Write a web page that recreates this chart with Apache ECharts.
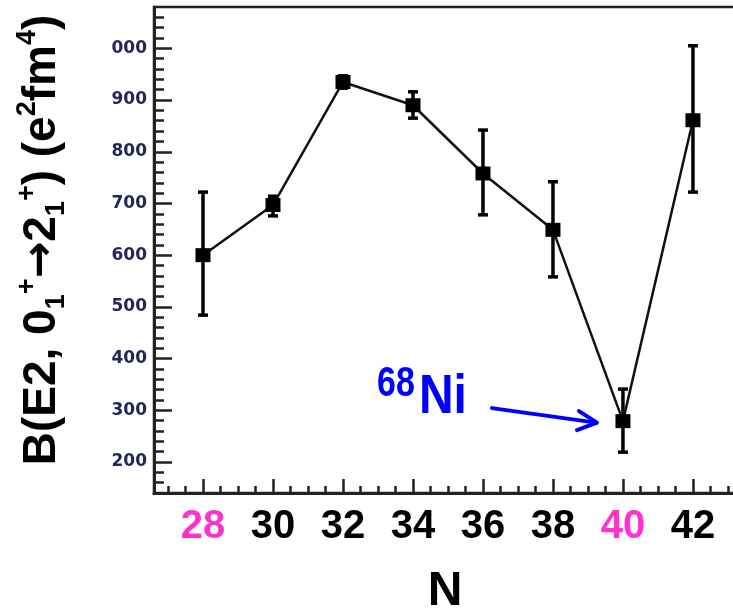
<!DOCTYPE html>
<html>
<head>
<meta charset="utf-8">
<script src="https://cdn.jsdelivr.net/npm/echarts@6/dist/echarts.min.js"></script>
<style>
html,body{margin:0;padding:0;background:#fff;}
#chart{width:733px;height:615px;}
</style>
</head>
<body>
<div id="chart"></div>
<script>
// ---- data ----
const neutronNumbers = [28, 30, 32, 34, 36, 38, 40, 42];
const be2Values      = [600, 697, 935, 890, 758, 649, 279, 861];
const errLow         = [484, 676, 923, 865, 678, 558, 219, 722];
const errHigh        = [722, 714, 947, 916, 842, 742, 341, 1005];

const xTickValues = [28, 30, 32, 34, 36, 38, 40, 42];
const xTickLabels = ['28', '30', '32', '34', '36', '38', '40', '42'];
const xHighlighted = ['28', '40'];

const yTickValues = [200, 300, 400, 500, 600, 700, 800, 900, 1000];
const yTickLabels = ['200', '300', '400', '500', '600', '700', '800', '900', '000'];

const annotationN = 40;
const annotationValue = 279;

// ---- axis ranges / minor ticks ----
const X_MIN = 26.6, X_MAX = 43.23;
const Y_MIN = 140, Y_MAX = 1080;
const xMinor = [];
for (let v = 27; v <= 43; v += 0.5) xMinor.push(v);
const yMinor = [];
for (let v = 160; v <= 1060; v += 20) yMinor.push(v);

const chart = echarts.init(document.getElementById('chart'), null, {renderer: 'canvas'});

const lineData = neutronNumbers.map((n, i) => [n, be2Values[i]]);
const errData = neutronNumbers.map((n, i) => [n, errLow[i], errHigh[i]]);

const FONT = '"Liberation Sans", Arial, sans-serif';
const WIDE = '"DejaVu Sans", sans-serif';

const option = {
  animation: false,
  backgroundColor: '#fff',
  grid: {
    left: 154, top: 7, right: -3, bottom: 122,
    outerBoundsMode: 'none', containLabel: false,
    show: true, borderColor: '#222', borderWidth: 2.5, backgroundColor: 'transparent'
  },
  xAxis: [
    {
      type: 'value', min: X_MIN, max: X_MAX, position: 'bottom',
      axisLine: {show: true, lineStyle: {color: '#222', width: 3}},
      axisTick: {show: true, inside: true, length: 14, lineStyle: {color: '#222', width: 2.5}, customValues: xTickValues},
      axisLabel: {
        show: true, margin: 14, customValues: xTickValues,
        formatter: function (v) {
          const idx = xTickValues.indexOf(v);
          const lab = idx >= 0 ? xTickLabels[idx] : '';
          return xHighlighted.indexOf(lab) >= 0 ? '{m|' + lab + '}' : '{k|' + lab + '}';
        },
        rich: {
          m: {color: '#ff33cc', fontSize: 40, fontWeight: 'bold', fontFamily: FONT},
          k: {color: '#000', fontSize: 40, fontWeight: 'bold', fontFamily: FONT}
        }
      },
      splitLine: {show: false},
      name: 'N', nameLocation: 'middle', nameGap: 75,
      nameTextStyle: {fontSize: 48, fontWeight: 'bold', color: '#000', fontFamily: FONT}
    },
    {
      type: 'value', min: X_MIN, max: X_MAX, position: 'bottom',
      axisLine: {show: false},
      axisTick: {show: true, inside: true, length: 7, lineStyle: {color: '#222', width: 2.5}, customValues: xMinor},
      axisLabel: {show: false},
      splitLine: {show: false}
    }
  ],
  yAxis: [
    {
      type: 'value', min: Y_MIN, max: Y_MAX, position: 'left',
      axisLine: {show: true, lineStyle: {color: '#222', width: 3}},
      axisTick: {show: true, inside: true, length: 18, lineStyle: {color: '#222', width: 2.5}, customValues: yTickValues},
      axisLabel: {
        show: true, margin: 7, customValues: yTickValues,
        color: '#25255a', fontSize: 17, fontWeight: 'bold', fontFamily: WIDE,
        formatter: function (v) {
          const idx = yTickValues.indexOf(v);
          return idx >= 0 ? yTickLabels[idx] : '';
        }
      },
      splitLine: {show: false},
      name: '{t|B(E2, 0}{sub|1}{sup|+}{arr|\u2192}{t|2}{sub|1}{sup|+}{t|) (e}{sup|2}{t|fm}{sup|4}{t|)}',
      nameLocation: 'middle', nameRotate: 90, nameGap: 84,
      nameTextStyle: {
        fontSize: 46, fontWeight: 'bold', color: '#000', fontFamily: FONT,
        padding: [0, 0, 0, 20],
        rich: {
          t: {fontSize: 46, fontWeight: 'bold', color: '#000', fontFamily: FONT, lineHeight: 56},
          arr: {fontSize: 44, fontWeight: 'bold', color: '#000', fontFamily: WIDE, lineHeight: 56},
          sub: {fontSize: 27, fontWeight: 'bold', color: '#000', fontFamily: FONT, verticalAlign: 'bottom', lineHeight: 56},
          sup: {fontSize: 27, fontWeight: 'bold', color: '#000', fontFamily: FONT, verticalAlign: 'top', lineHeight: 56}
        }
      }
    },
    {
      type: 'value', min: Y_MIN, max: Y_MAX, position: 'left',
      axisLine: {show: false},
      axisTick: {show: true, inside: true, length: 10, lineStyle: {color: '#222', width: 2.5}, customValues: yMinor},
      axisLabel: {show: false},
      splitLine: {show: false}
    }
  ],
  series: [
    {
      type: 'custom',
      xAxisIndex: 0, yAxisIndex: 0,
      z: 2,
      data: errData,
      renderItem: function (params, api) {
        const x = api.value(0);
        const lo = api.coord([x, api.value(1)]);
        const hi = api.coord([x, api.value(2)]);
        const cap = 5;
        const st = {stroke: '#000', lineWidth: 3.5};
        return {
          type: 'group',
          children: [
            {type: 'line', shape: {x1: lo[0], y1: lo[1], x2: hi[0], y2: hi[1]}, style: st},
            {type: 'line', shape: {x1: lo[0] - cap, y1: lo[1], x2: lo[0] + cap, y2: lo[1]}, style: st},
            {type: 'line', shape: {x1: hi[0] - cap, y1: hi[1], x2: hi[0] + cap, y2: hi[1]}, style: st}
          ]
        };
      }
    },
    {
      type: 'line',
      xAxisIndex: 0, yAxisIndex: 0,
      z: 3,
      data: lineData,
      symbol: 'rect',
      symbolSize: [15, 14],
      itemStyle: {color: '#000'},
      lineStyle: {color: '#111', width: 2.5}
    }
  ]
};

chart.setOption(option);

// ---- annotation anchored to the N=40 point ----
const p = chart.convertToPixel({xAxisIndex: 0, yAxisIndex: 0}, [annotationN, annotationValue]);
const blue = '#0000ff';
chart.setOption({
  graphic: [
    {
      type: 'group', x: p[0], y: p[1], z: 10,
      children: [
        {type: 'text', x: -227, y: -37, scaleY: 1.25,
         style: {text: '68', fill: blue, font: 'bold 34px ' + FONT, textAlign: 'center', textVerticalAlign: 'middle'}},
        {type: 'text', x: -180, y: -23, scaleY: 1.15,
         style: {text: 'Ni', fill: blue, font: 'bold 48px ' + FONT, textAlign: 'center', textVerticalAlign: 'middle'}},
        {type: 'line', shape: {x1: -131, y1: -13, x2: -27, y2: 1.5}, style: {stroke: blue, lineWidth: 4, lineCap: 'round'}},
        {type: 'polyline', shape: {points: [[-44, -10], [-26, 1.5], [-46, 9]]}, style: {stroke: blue, fill: null, lineWidth: 4, lineCap: 'round', lineJoin: 'round'}}
      ]
    }
  ]
});
</script>
</body>
</html>
